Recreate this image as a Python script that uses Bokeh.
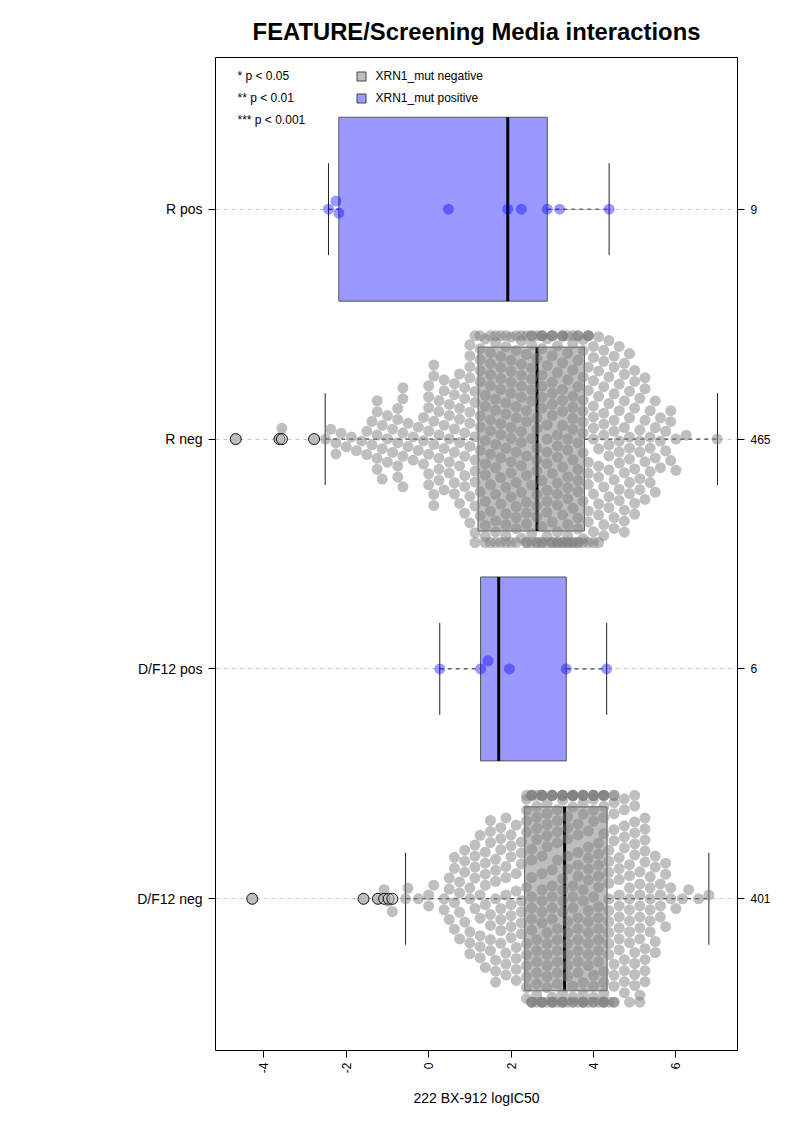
import math
import numpy as np
from bokeh.plotting import figure
from bokeh.models import Range1d, FixedTicker, LinearAxis, Label
from bokeh.embed import file_html
from bokeh.resources import INLINE

# ---------------- data ----------------
groups = ["D/F12 neg", "D/F12 pos", "R neg", "R pos"]          # bottom -> top
group_n = ["401", "6", "465", "9"]

# small groups: individual values
rpos_values = [-2.43, -2.25, -2.18, 0.48, 1.92, 2.25, 2.88, 3.18, 4.38]
dfpos_values = [0.27, 1.26, 1.44, 1.96, 3.34, 4.32]

# large groups: frequency tables (value, count) + outliers
rneg_outliers = [-4.68, -3.62, -3.56, -2.78]
rneg_bins = [-2.5, -2.375, -2.25, -2.125, -2.0, -1.875, -1.75, -1.625, -1.5, -1.375,
             -1.25, -1.125, -1.0, -0.875, -0.75, -0.625, -0.5, -0.375, -0.25, -0.125,
             0.0, 0.125, 0.25, 0.375, 0.5, 0.625, 0.75, 0.875, 1.0, 1.125,
             1.25, 1.375, 1.5, 1.625, 1.75, 1.875, 2.0, 2.125, 2.25, 2.375, 2.5,
             2.625, 2.75, 2.875, 3.0, 3.125, 3.25, 3.375, 3.5, 3.625, 3.75,
             3.875, 4.0, 4.125, 4.25, 4.375, 4.5, 4.625, 4.75, 4.875, 5.0,
             5.125, 5.25, 5.375, 5.5, 5.625, 5.75, 5.875, 6.0, 6.25, 7.0]
rneg_counts = [1, 1, 2, 1, 1, 1, 1, 1, 2, 2,
               5, 3, 3, 2, 5, 5, 2, 2, 2, 3,
               7, 6, 6, 5, 5, 6, 6, 7, 9, 10,
               10, 10, 11, 10, 11, 10, 11, 10, 11, 11, 11,
               12, 12, 11, 12, 11, 12, 12, 11, 12, 11,
               11, 10, 9, 9, 8, 8, 8, 8, 8, 6,
               6, 5, 5, 4, 3, 2, 3, 2, 1, 1]

dfneg_outliers = [-4.28, -1.58, -1.23, -1.08, -0.97, -0.88]
dfneg_bins = [-0.56, -0.5, -0.25, 0.0, 0.125, 0.375, 0.5, 0.625, 0.75, 0.875,
              1.0, 1.125, 1.25, 1.375, 1.5, 1.625, 1.75, 1.875, 2.0, 2.125, 2.25,
              2.375, 2.5, 2.625, 2.75, 2.875, 3.0, 3.125, 3.25,
              3.375, 3.5, 3.625, 3.75, 3.875, 4.0, 4.125, 4.25,
              4.375, 4.5, 4.625, 4.75, 4.875, 5.0, 5.125, 5.25, 5.375, 5.5,
              5.625, 5.75, 5.875, 6.0, 6.16, 6.31, 6.55, 6.8]
dfneg_counts = [1, 1, 1, 2, 1, 2, 3, 4, 4, 4,
                5, 5, 6, 6, 7, 7, 7, 7, 7, 7, 7,
                12, 13, 12, 13, 12, 13, 12, 13,
                12, 13, 12, 13, 12, 13, 12, 13,
                11, 11, 9, 9, 9, 10, 9, 9, 6, 4,
                4, 3, 2, 1, 1, 1, 1, 1]

# box statistics (order as groups)
box_lo = [-0.56, 0.27, -2.51, -2.43]
box_q1 = [2.33, 1.26, 1.20, -2.18]
box_med = [3.30, 1.70, 2.63, 1.92]
box_q3 = [4.33, 3.34, 3.78, 2.88]
box_hi = [6.80, 4.32, 7.01, 4.38]
box_outliers = [dfneg_outliers, [], rneg_outliers, []]
is_positive = [False, True, False, True]

# ---------------- layout ----------------
W, H = 785, 1114
ML, MR, MT, MB = 215, 48, 57, 64
X0, X1 = -5.172, 7.495
Y0, Y1 = 0.34, 4.66
FW = W - ML - MR
FH = H - MT - MB
SX = FW / (X1 - X0)     # px per x unit
SY = FH / (Y1 - Y0)     # px per group
DIAM = 11.0             # point diameter, px
FONT = "Liberation Sans"


def expand(bins, counts, extra):
    vals = list(extra)
    for b, c in zip(bins, counts):
        vals.extend([b] * c)
    return vals


def swarm(vals):
    v = np.asarray(vals, dtype=float)
    order = np.argsort(v, kind="stable")
    xs = v[order] * SX / DIAM
    ys = np.zeros(len(xs))
    for i in range(1, len(xs)):
        xi = xs[i]
        m = np.abs(xi - xs[:i]) < 1
        px = xs[:i][m]
        py = ys[:i][m]
        if len(px) == 0:
            continue
        off = np.sqrt(1 - (xi - px) ** 2)
        cand = np.concatenate([[0.0], py + off, py - off])
        d2 = (xi - px)[None, :] ** 2 + (cand[:, None] - py[None, :]) ** 2
        bad = np.any(d2 < 0.999, axis=1)
        cand = np.where(bad, np.inf, cand)
        ys[i] = cand[np.argmin(np.abs(cand))]
    out = np.empty(len(xs))
    out[order] = ys
    off = out * DIAM / SY
    return np.clip(off, -0.45, 0.45)


group_values = [
    expand(dfneg_bins, dfneg_counts, dfneg_outliers),
    dfpos_values,
    expand(rneg_bins, rneg_counts, rneg_outliers),
    rpos_values,
]

p = figure(width=W, height=H, x_range=Range1d(X0, X1), y_range=Range1d(Y0, Y1),
           output_backend="svg", toolbar_location=None,
           min_border_left=ML, min_border_right=MR, min_border_top=MT, min_border_bottom=MB)
p.background_fill_color = "white"
p.border_fill_color = "white"
p.outline_line_color = "black"
p.outline_line_width = 1
p.outline_line_alpha = 1

# title
p.title.text = "FEATURE/Screening Media interactions"
p.title.align = "center"
p.title.text_font = FONT
p.title.text_font_size = "23.8px"
p.title.text_font_style = "bold"
p.title.text_color = "black"
p.title.standoff = 25

# grid: dashed lines at each group
p.xgrid.visible = False
p.ygrid.ticker = FixedTicker(ticks=[1, 2, 3, 4])
p.ygrid.grid_line_color = "#C8C8C8"
p.ygrid.grid_line_dash = "4 4"
p.ygrid.grid_line_width = 1

# axes
xa = p.xaxis[0]
xa.ticker = FixedTicker(ticks=[-4, -2, 0, 2, 4, 6])
xa.major_label_overrides = {-4: "-4", -2: "-2", 0: "0", 2: "2", 4: "4", 6: "6"}
xa.major_label_orientation = math.pi / 2
xa.axis_label = "222 BX-912 logIC50"

ya = p.yaxis[0]
ya.ticker = FixedTicker(ticks=[1, 2, 3, 4])
ya.major_label_overrides = {i + 1: g for i, g in enumerate(groups)}

ra = LinearAxis(ticker=FixedTicker(ticks=[1, 2, 3, 4]),
                major_label_overrides={i + 1: n for i, n in enumerate(group_n)})
p.add_layout(ra, "right")

for ax, fs in ((xa, "12px"), (ya, "14px"), (ra, "12px")):
    ax.axis_line_color = None
    ax.major_tick_line_color = "black"
    ax.major_tick_out = 7
    ax.major_tick_in = 0
    ax.minor_tick_line_color = None
    ax.major_label_text_font = FONT
    ax.major_label_text_font_size = fs
    ax.major_label_text_color = "black"
    ax.major_label_standoff = 6
xa.major_label_standoff = 5
xa.axis_label_text_font = FONT
xa.axis_label_text_font_size = "14px"
xa.axis_label_text_font_style = "normal"
xa.axis_label_text_color = "black"
xa.axis_label_standoff = 14

# boxes
for i in range(4):
    g = i + 1
    fill = "#9999FF" if is_positive[i] else "#BEBEBE"
    # whiskers
    p.segment(x0=[box_lo[i], box_q3[i]], y0=[g, g], x1=[box_q1[i], box_hi[i]], y1=[g, g],
              line_color="#222222", line_width=1, line_dash="4 4")
    # staples
    p.segment(x0=[box_lo[i], box_hi[i]], y0=[g - 0.2, g - 0.2], x1=[box_lo[i], box_hi[i]],
              y1=[g + 0.2, g + 0.2], line_color="#222222", line_width=1)
    p.quad(left=[box_q1[i]], right=[box_q3[i]], bottom=[g - 0.4], top=[g + 0.4],
           fill_color=fill, line_color="#555555", line_width=1)
    p.segment(x0=[box_med[i]], y0=[g - 0.4], x1=[box_med[i]], y1=[g + 0.4],
              line_color="black", line_width=3)

# swarm points
for i in range(4):
    g = i + 1
    vals = group_values[i]
    off = swarm(vals)
    color = "#0000FF" if is_positive[i] else "#7F7F7F"
    alpha = 0.4 if is_positive[i] else 0.5
    p.scatter(x=vals, y=g + off, size=DIAM, fill_color=color, fill_alpha=alpha,
              line_color=None)

# outliers
for i in range(4):
    if box_outliers[i]:
        g = i + 1
        p.scatter(x=box_outliers[i], y=[g] * len(box_outliers[i]), size=DIAM,
                  fill_color="#BEBEBE", fill_alpha=0.5, line_color="#111111", line_width=1)


# legend (page pixel positions converted to data coords)
def px2x(px):
    return X0 + (px - ML) / SX


def py2y(py):
    return Y1 - (py - MT) / SY


for txt, yy in (("* p < 0.05", 75), ("** p < 0.01", 97), ("*** p < 0.001", 119)):
    p.add_layout(Label(x=px2x(237), y=py2y(yy), text=txt, text_font=FONT,
                       text_font_size="12px", text_baseline="middle", text_color="black"))
for txt, yy, col in (("XRN1_mut negative", 76, "#BEBEBE"), ("XRN1_mut positive", 98, "#9999FF")):
    p.scatter(x=[px2x(361)], y=[py2y(yy)], marker="square", size=9, fill_color=col,
              line_color="#444444", line_width=1)
    p.add_layout(Label(x=px2x(375), y=py2y(yy - 0.5), text=txt, text_font=FONT,
                       text_font_size="12px", text_baseline="middle", text_color="black"))

open("out.html", "w").write(file_html(p, INLINE))
